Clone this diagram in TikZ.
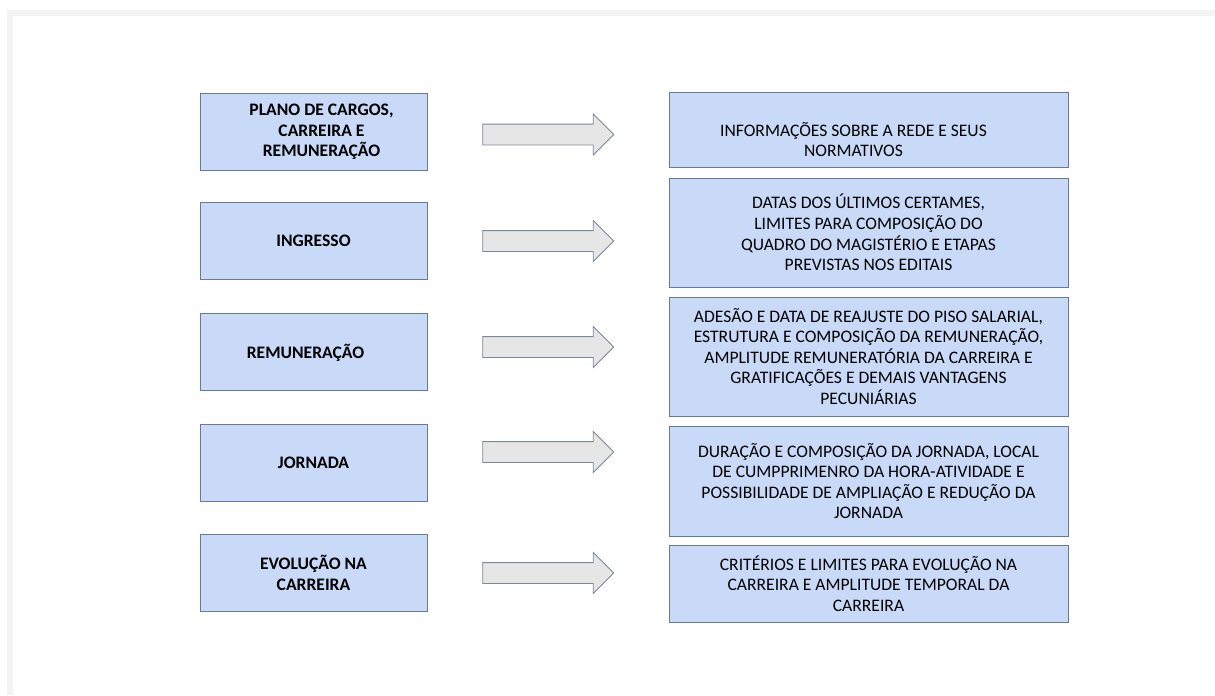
\documentclass[tikz,border=0pt]{standalone}
\usepackage{fontspec}
\setmainfont{Carlito}
\usepackage{tikz}
\usepackage{xcolor}
\usetikzlibrary{positioning,shapes.arrows}
\definecolor{boxfill}{HTML}{C9DAF8}
\definecolor{boxline}{HTML}{6A7A94}
\definecolor{arrfill}{HTML}{E6E6E6}
\definecolor{arrline}{HTML}{7D8799}
\definecolor{framegray}{HTML}{F3F3F3}

\begin{document}
\begin{tikzpicture}[
  topic/.style={draw=boxline,fill=boxfill,line width=0.7pt,minimum width=5.675cm,minimum height=1.925cm,align=center,font=\fontsize{12.5}{14.7}\selectfont\bfseries,inner sep=2pt},
  detail/.style={draw=boxline,fill=boxfill,line width=0.7pt,minimum width=9.975cm,align=center,font=\fontsize{12.5}{14.6}\selectfont,inner sep=2pt},
  blockarr/.style={single arrow,draw=arrline,fill=arrfill,line width=0.6pt,minimum height=3.275cm,minimum width=1cm,inner xsep=0pt,inner ysep=0.25cm,single arrow head extend=0.25cm,single arrow head indent=0pt,shape border rotate=0}
]
% page and frame
\useasboundingbox (0,0) rectangle (30.375,-17.375);
\fill[framegray] (0.175,-0.25) rectangle (30.375,-17.375);
\fill[white] (0.325,-0.4) rectangle (30.375,-17.375);

% left column
\node[topic] (t1) at (7.8375,-3.3) {\hspace*{0.4cm}PLANO DE CARGOS,\\\hspace*{0.4cm}CARREIRA E\\\hspace*{0.4cm}REMUNERAÇÃO};
\node[topic] (t2) at (7.8375,-6.025) {INGRESSO};
\node[topic] (t3) at (7.8375,-8.81) {REMUNERAÇÃO\hspace*{0.4cm}};
\node[topic] (t4) at (7.8375,-11.5625) {JORNADA};
\node[topic] (t5) at (7.8375,-14.325) {EVOLUÇÃO NA\\CARREIRA};

% right column
\node[detail,minimum height=1.875cm] (d1) at (21.7125,-3.2375) {\rule{0pt}{0.85cm}INFORMAÇÕES SOBRE A REDE E SEUS\hspace*{0.75cm}\\NORMATIVOS\hspace*{0.75cm}};
\node[detail,minimum height=2.725cm] (d2) at (21.7125,-5.8125) {DATAS DOS ÚLTIMOS CERTAMES,\\LIMITES PARA COMPOSIÇÃO DO\\QUADRO DO MAGISTÉRIO E ETAPAS\\PREVISTAS NOS EDITAIS};
\node[detail,minimum height=2.975cm] (d3) at (21.7125,-8.9125) {ADESÃO E DATA DE REAJUSTE DO PISO SALARIAL,\\ESTRUTURA E COMPOSIÇÃO DA REMUNERAÇÃO,\\AMPLITUDE REMUNERATÓRIA DA CARREIRA E\\GRATIFICAÇÕES E DEMAIS VANTAGENS\\PECUNIÁRIAS};
\node[detail,minimum height=2.75cm] (d4) at (21.7125,-12.025) {DURAÇÃO E COMPOSIÇÃO DA JORNADA, LOCAL\\DE CUMPPRIMENRO DA HORA-ATIVIDADE E\\POSSIBILIDADE DE AMPLIAÇÃO E REDUÇÃO DA\\JORNADA};
\node[detail,minimum height=1.925cm] (d5) at (21.7125,-14.5875) {CRITÉRIOS E LIMITES PARA EVOLUÇÃO NA\\CARREIRA E AMPLITUDE TEMPORAL DA\\CARREIRA};

% arrows
\node[blockarr] (a1) at (13.575,-3.3625) {};
\node[blockarr] (a2) at (13.575,-6.025) {};
\node[blockarr] (a3) at (13.575,-8.675) {};
\node[blockarr] (a4) at (13.575,-11.3) {};
\node[blockarr] (a5) at (13.575,-14.325) {};
\end{tikzpicture}
\end{document}
